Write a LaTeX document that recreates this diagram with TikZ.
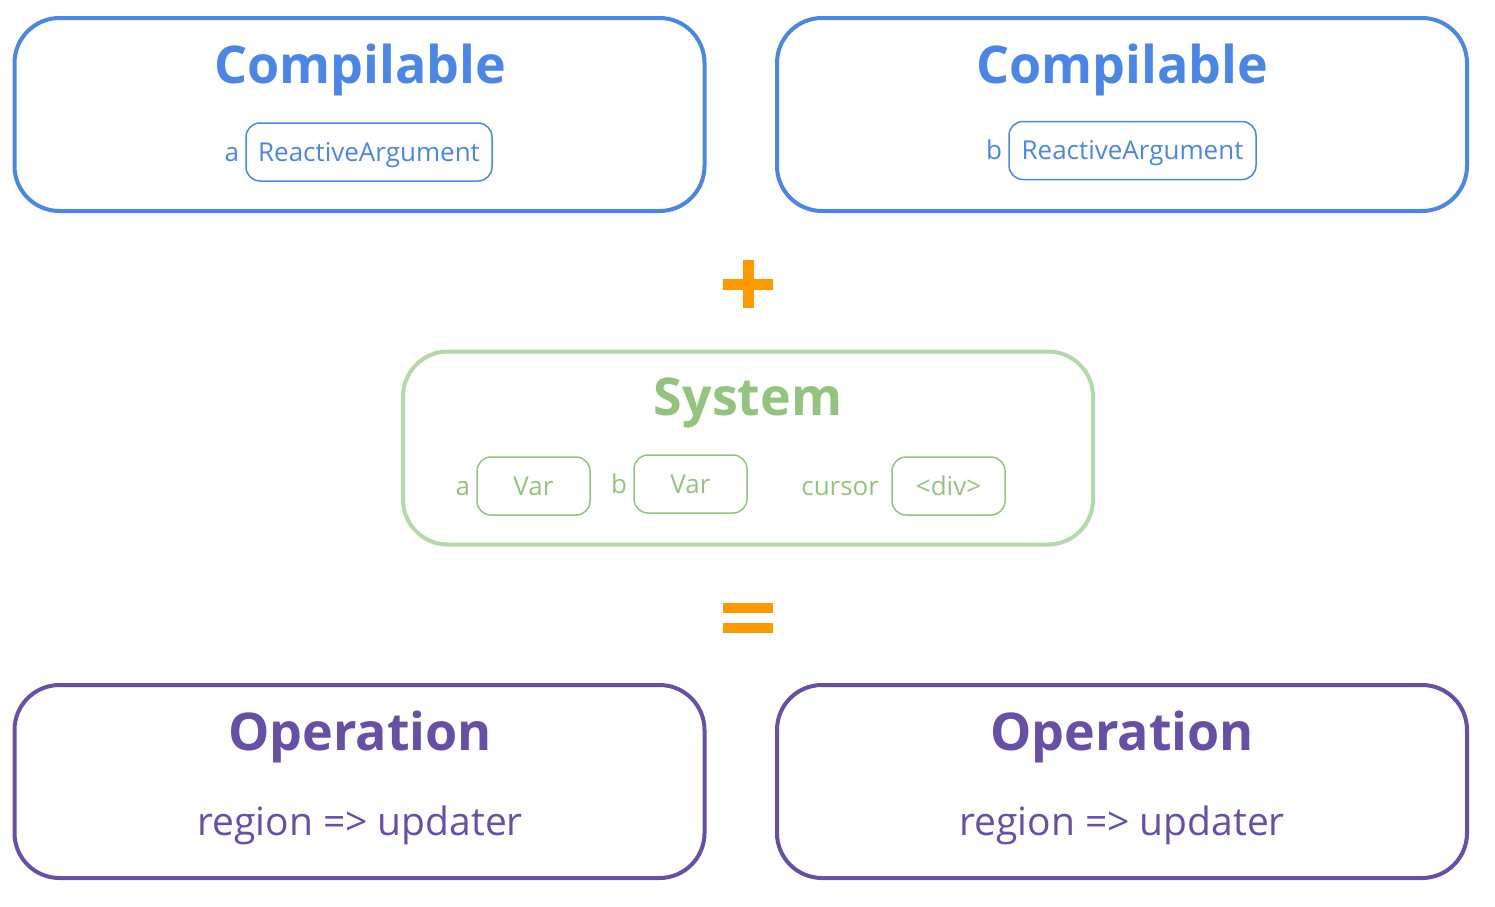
\documentclass[tikz,border=0pt]{standalone}
\usepackage{fontspec}
\setmainfont{Open Sans}
\definecolor{cblue}{HTML}{4A86E8}
\definecolor{cgreen}{HTML}{93C47D}
\definecolor{cgreenl}{HTML}{B6D7A8}
\definecolor{cpurple}{HTML}{674EA7}
\definecolor{corange}{HTML}{FF9900}
\tikzset{
  bigbox/.style={draw=#1, line width=4pt, rounded corners=45pt, minimum width=690pt, minimum height=193pt, inner sep=0pt},
  smallbox/.style={draw=#1, line width=1.5pt, rounded corners=14pt, minimum height=58pt, inner sep=0pt, font=\fontsize{26}{30}\selectfont, text=#1, text height=24pt, text depth=6pt},
  title/.style={font=\fontsize{52}{60}\selectfont\bfseries, text=#1},
  lbl/.style={font=\fontsize{26}{30}\selectfont, text=#1, text height=24pt, text depth=6pt},
  bar/.style={fill=corange, draw=none}
}
\begin{document}
\begin{tikzpicture}[x=1pt,y=-1pt]
\useasboundingbox (0,0) rectangle (1495,906);
% top
\node[bigbox=cblue] (c1) at (359.5,114.5) {};
\node[bigbox=cblue] (c2) at (1122,114.5) {};
\node[title=cblue] (c1t) at (360,70) {Compilable};
\node[title=cblue] (c2t) at (1122,70) {Compilable};
\node[smallbox=cblue, minimum width=246pt] (ra) at (369,152) {ReactiveArgument};
\node[lbl=cblue, anchor=east, inner sep=6pt] (al) at (ra.west) {a};
\node[smallbox=cblue, minimum width=247pt] (rb) at (1132.5,150.5) {ReactiveArgument};
\node[lbl=cblue, anchor=east, inner sep=6pt] (bl) at (rb.west) {b};
% plus
\fill[bar] (723,279) rectangle (773,290);
\fill[bar] (743,260) rectangle (754,308);
% system
\node[bigbox=cgreenl] (sys) at (748,448) {};
\node[title=cgreen] (syst) at (748,403) {System};
\node[smallbox=cgreen, minimum width=113pt] (va) at (533.5,486) {Var};
\node[lbl=cgreen, anchor=east, inner sep=6pt] (val) at (va.west) {a};
\node[smallbox=cgreen, minimum width=113pt] (vb) at (690.5,484) {Var};
\node[lbl=cgreen, anchor=east, inner sep=6pt] (vbl) at (vb.west) {b};
\node[smallbox=cgreen, minimum width=113pt] (dv) at (948.5,486) {<div>};
\node[lbl=cgreen, anchor=east, inner sep=12pt] (cl) at (dv.west) {cursor};
% equals
\fill[bar] (723,603) rectangle (773,613);
\fill[bar] (723,623) rectangle (773,633);
% operations
\node[bigbox=cpurple] (o1) at (359.5,781.5) {};
\node[bigbox=cpurple] (o2) at (1122,781.5) {};
\node[title=cpurple] (o1t) at (360,737) {Operation};
\node[title=cpurple] (o2t) at (1122,737) {Operation};
\node[lbl=cpurple, font=\fontsize{39}{46}\selectfont, text height=, text depth=] (o1s) at (360,825) {region => updater};
\node[lbl=cpurple, font=\fontsize{39}{46}\selectfont, text height=, text depth=] (o2s) at (1122,825) {region => updater};
\end{tikzpicture}
\end{document}
